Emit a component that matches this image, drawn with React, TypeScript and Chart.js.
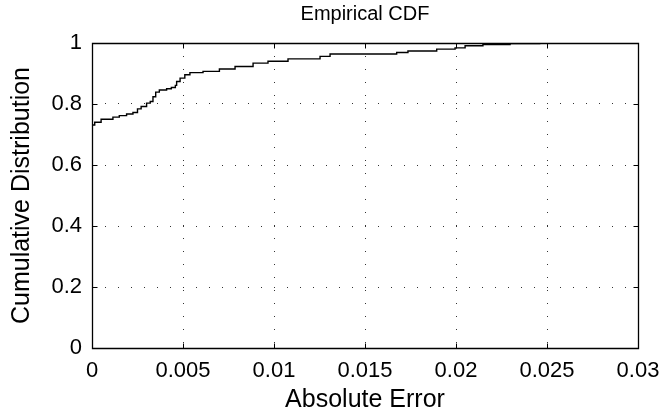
import React, { useEffect, useRef } from "react";
import { Chart, registerables } from "chart.js";

Chart.register(...registerables);

// ECDF step locations (absolute error) and cumulative values after each step
const errorValues = [
  0, 0.00015, 0.0005, 0.00115, 0.0015, 0.0019, 0.00225, 0.0025, 0.0027, 0.003,
  0.0032, 0.00335, 0.0035, 0.0037, 0.0041, 0.00436, 0.00458, 0.00465, 0.00484,
  0.0051, 0.00538, 0.0061, 0.007, 0.00786, 0.00885, 0.00967, 0.01077, 0.01253,
  0.01308, 0.01674, 0.01736, 0.01894, 0.01995, 0.0205, 0.02148, 0.02297, 0.0246,
  0.0286,
];
const cdfValues = [
  0.731, 0.74, 0.75, 0.757, 0.762, 0.767, 0.772, 0.784, 0.792, 0.803, 0.808,
  0.824, 0.839, 0.846, 0.85, 0.854, 0.861, 0.874, 0.885, 0.896, 0.903, 0.907,
  0.915, 0.923, 0.934, 0.94, 0.948, 0.956, 0.964, 0.969, 0.974, 0.98, 0.984,
  0.991, 0.995, 0.998, 1.0, 1.0,
];
const xTickValues = [0, 0.005, 0.01, 0.015, 0.02, 0.025, 0.03];
const xTickLabels = ["0", "0.005", "0.01", "0.015", "0.02", "0.025", "0.03"];
const yTickValues = [0, 0.2, 0.4, 0.6, 0.8, 1];
const yTickLabels = ["0", "0.2", "0.4", "0.6", "0.8", "1"];
const titleText = "Empirical CDF";
const xTitle = "Absolute Error";
const yTitle = "Cumulative Distribution";

const FONT = "'Liberation Sans', Helvetica, Arial, sans-serif";

const framePlugin = {
  id: "matlabFrame",
  afterDraw(chart: any) {
    const { ctx, chartArea, scales } = chart;
    const l = Math.round(chartArea.left) + 0.5;
    const r = Math.round(chartArea.right) + 0.5;
    const t = Math.round(chartArea.top) + 0.5;
    const b = Math.round(chartArea.bottom) + 0.5;
    const tl = 5;
    ctx.save();
    ctx.strokeStyle = "#000";
    ctx.lineWidth = 1.3;
    ctx.beginPath();
    ctx.rect(l, t, r - l, b - t);
    ctx.stroke();
    ctx.lineWidth = 1;
    ctx.beginPath();
    xTickValues.forEach((v) => {
      const x = Math.round(scales.x.getPixelForValue(v)) + 0.5;
      ctx.moveTo(x, b);
      ctx.lineTo(x, b - tl);
      ctx.moveTo(x, t);
      ctx.lineTo(x, t + tl);
    });
    yTickValues.forEach((v) => {
      const y = Math.round(scales.y.getPixelForValue(v)) + 0.5;
      ctx.moveTo(l, y);
      ctx.lineTo(l + tl, y);
      ctx.moveTo(r, y);
      ctx.lineTo(r - tl, y);
    });
    ctx.stroke();
    ctx.restore();
  },
};

export default function App() {
  const canvasRef = useRef<HTMLCanvasElement | null>(null);

  useEffect(() => {
    document.body.style.margin = "0";
    const canvas = canvasRef.current;
    if (!canvas) return;
    const points = errorValues.map((x, i) => ({ x, y: cdfValues[i] }));
    const chart = new Chart(canvas, {
      type: "line",
      data: {
        datasets: [
          {
            data: points,
            borderColor: "#000",
            borderWidth: 1.4,
            pointRadius: 0,
            stepped: true,
            fill: false,
          },
        ],
      },
      options: {
        responsive: false,
        animation: false,
        devicePixelRatio: 1,
        layout: { padding: { left: 0, right: 24, top: 0, bottom: 0 } },
        plugins: {
          legend: { display: false },
          tooltip: { enabled: false },
          title: {
            display: true,
            text: titleText,
            fullSize: false,
            color: "#000",
            font: { family: FONT, size: 20, weight: "normal" },
            padding: { top: 2, bottom: 17 },
          },
        },
        scales: {
          x: {
            type: "linear",
            min: 0,
            max: 0.03,
            afterBuildTicks: (scale: any) => {
              scale.ticks = xTickValues.map((value) => ({ value }));
            },
            afterFit: (scale: any) => {
              scale.height = 67;
              scale.paddingLeft = 0;
              scale.paddingRight = 0;
            },
            ticks: {
              color: "#000",
              padding: 10,
              maxRotation: 0,
              autoSkip: false,
              font: { family: FONT, size: 22 },
              callback: (value: any) => {
                const i = xTickValues.findIndex((v) => Math.abs(v - value) < 1e-9);
                return i >= 0 ? xTickLabels[i] : "";
              },
            },
            grid: {
              color: "#333",
              lineWidth: 1,
              drawTicks: false,
            },
            border: { display: false, dash: [1, 12] },
            title: {
              display: true,
              text: xTitle,
              color: "#000",
              font: { family: FONT, size: 25 },
              padding: { top: 0, bottom: 0 },
            },
          },
          y: {
            type: "linear",
            min: 0,
            max: 1,
            afterBuildTicks: (scale: any) => {
              scale.ticks = yTickValues.map((value) => ({ value }));
            },
            afterFit: (scale: any) => {
              scale.width = 92;
              scale.paddingTop = 0;
              scale.paddingBottom = 0;
            },
            ticks: {
              color: "#000",
              padding: 10,
              autoSkip: false,
              font: { family: FONT, size: 22 },
              callback: (value: any) => {
                const i = yTickValues.findIndex((v) => Math.abs(v - value) < 1e-9);
                return i >= 0 ? yTickLabels[i] : "";
              },
            },
            grid: {
              color: "#333",
              lineWidth: 1,
              drawTicks: false,
            },
            border: { display: false, dash: [1, 12] },
            title: {
              display: true,
              text: yTitle,
              color: "#000",
              font: { family: FONT, size: 25 },
              padding: { top: 7, bottom: 0 },
            },
          },
        },
      },
      plugins: [framePlugin],
    } as any);
    return () => chart.destroy();
  }, []);

  return (
    <div style={{ width: 662, height: 415, background: "#fff" }}>
      <canvas ref={canvasRef} width={662} height={415} />
    </div>
  );
}
